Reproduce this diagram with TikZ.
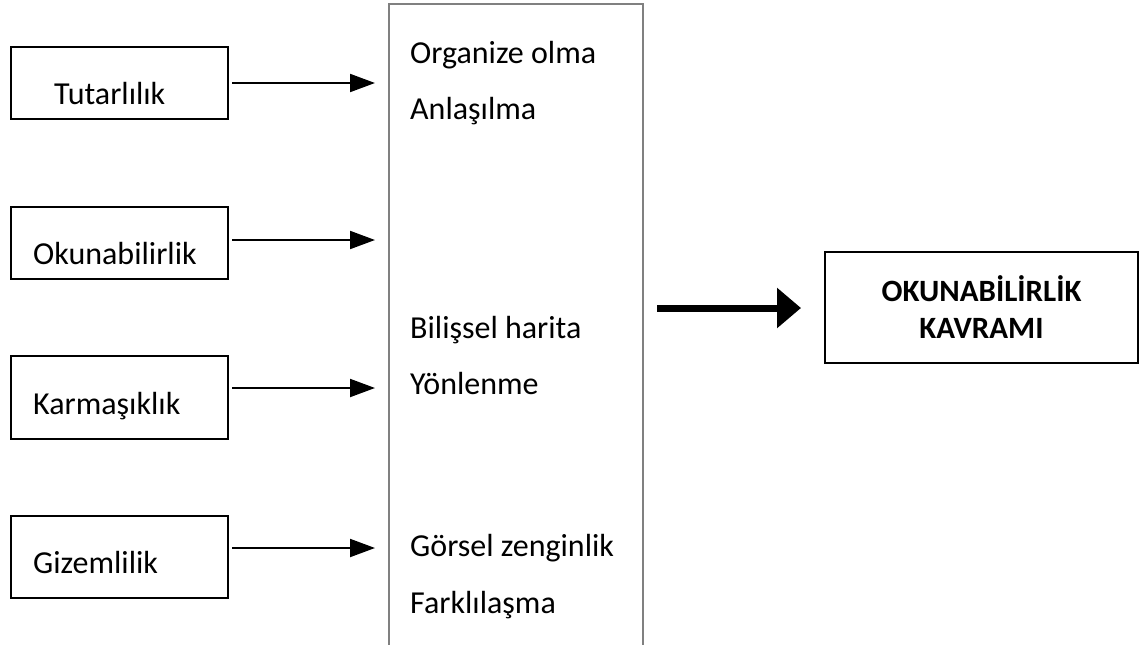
\documentclass[tikz,border=0pt]{standalone}
\usepackage{fontspec}
\setmainfont{Carlito}
\usetikzlibrary{arrows.meta}
\begin{document}
\begin{tikzpicture}[x=1pt,y=-1pt,
  factorbox/.style={draw=black,line width=2pt,rectangle,inner sep=0pt,
    minimum width=217pt,minimum height=#1},
  label/.style={anchor=base west,inner sep=0pt,font=\fontsize{32}{38}\selectfont},
  thinarrow/.style={line width=2pt,-{Triangle[length=25pt,width=18pt]}},
  thickarrow/.style={line width=7pt,-{Triangle[length=24pt,width=39pt]}},
  listframe/.style={draw=black!50,line width=2pt},
  resultbox/.style={draw=black,line width=2pt,rectangle,inner sep=0pt,
    minimum width=313pt,minimum height=111pt,align=center,
    font=\fontsize{31}{37}\selectfont\bfseries}
]
\useasboundingbox (0,0) rectangle (1144,645);

% factor boxes on the left
\node[factorbox=72pt]  (b1) at (119.5,83) {};
\node[factorbox=72pt]  (b2) at (119.5,243) {};
\node[factorbox=83pt]  (b3) at (119.5,397.5) {};
\node[factorbox=82pt]  (b4) at (119.5,557) {};

\node[label] (t1) at (54,104) {Tutarlılık};
\node[label] (t2) at (33,264) {Okunabilirlik};
\node[label] (t3) at (33,414) {Karmaşıklık};
\node[label] (t4) at (33,573) {Gizemlilik};

% arrow ends at the list frame
\coordinate (e1) at (375,83);
\coordinate (e2) at (375,240);
\coordinate (e3) at (375,388);
\coordinate (e4) at (375,548);

\draw[thinarrow,shorten <=3pt] (b1.east |- e1) -- (e1);
\draw[thinarrow,shorten <=3pt] (b2.east |- e2) -- (e2);
\draw[thinarrow,shorten <=3pt] (b3.east |- e3) -- (e3);
\draw[thinarrow,shorten <=3pt] (b4.east |- e4) -- (e4);

% list frame, open at the bottom
\coordinate (fbl) at (389,660);
\coordinate (ftl) at (389,4);
\coordinate (ftr) at (643,4);
\coordinate (fbr) at (643,660);
\begin{scope}
\clip (0,0) rectangle (1144,645);
\draw[listframe] (fbl) -- (ftl) -- (ftr) -- (fbr);
\end{scope}

\node[label] (m1) at (410,63)  {Organize olma};
\node[label] (m2) at (410,119) {Anlaşılma};
\node[label] (m3) at (410,338) {Bilişsel harita};
\node[label] (m4) at (410,394) {Yönlenme};
\node[label] (m5) at (410,556) {Görsel zenginlik};
\node[label] (m6) at (410,613) {Farklılaşma};

% result
\node[resultbox] (res) at (981.5,307.5) {OKUNABİLİRLİK\\KAVRAMI};
\coordinate (s) at (657,308);
\draw[thickarrow,shorten >=23pt] (s) -- (res.west |- s);
\end{tikzpicture}
\end{document}
